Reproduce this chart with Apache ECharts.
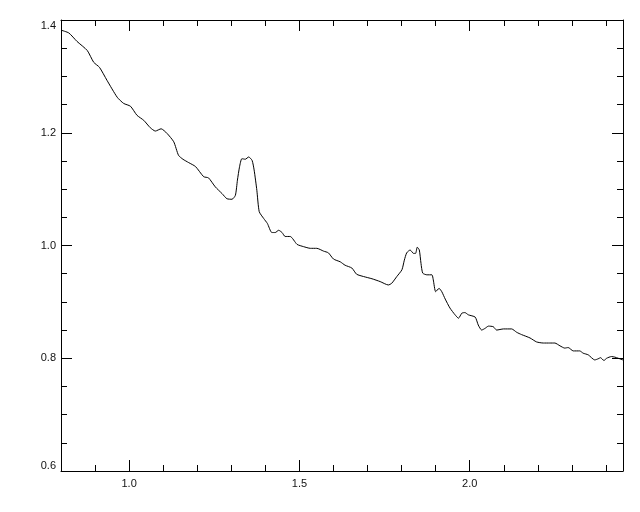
<!DOCTYPE html>
<html>
<head>
<meta charset="utf-8">
<script src="https://cdn.jsdelivr.net/npm/echarts@6/dist/echarts.min.js"></script>
<style>html,body{margin:0;padding:0;background:#fff}#c{width:640px;height:512px}</style>
</head>
<body>
<div id="c"></div>
<script>
var xVals = [0.800,0.823,0.847,0.877,0.896,0.913,0.935,0.965,0.984,1.004,1.023,1.043,1.062,1.077,1.094,1.111,1.131,1.145,1.158,1.175,1.195,1.219,1.233,1.253,1.273,1.287,1.302,1.312,1.318,1.324,1.331,1.341,1.351,1.361,1.367,1.375,1.382,1.395,1.406,1.419,1.429,1.439,1.449,1.458,1.473,1.493,1.512,1.532,1.551,1.571,1.585,1.600,1.620,1.634,1.654,1.668,1.688,1.713,1.737,1.761,1.771,1.786,1.801,1.808,1.815,1.825,1.835,1.841,1.846,1.852,1.857,1.862,1.874,1.889,1.893,1.900,1.910,1.918,1.928,1.942,1.957,1.967,1.977,1.986,1.996,2.016,2.025,2.035,2.045,2.055,2.069,2.079,2.099,2.123,2.138,2.152,2.177,2.196,2.216,2.235,2.250,2.265,2.279,2.289,2.304,2.323,2.333,2.348,2.367,2.377,2.384,2.394,2.402,2.416,2.426,2.436,2.450];
var yVals = [1.382,1.377,1.362,1.346,1.325,1.316,1.293,1.263,1.252,1.247,1.231,1.222,1.209,1.203,1.207,1.199,1.184,1.160,1.153,1.147,1.140,1.122,1.120,1.104,1.092,1.083,1.082,1.089,1.116,1.139,1.154,1.153,1.157,1.151,1.134,1.098,1.060,1.048,1.039,1.023,1.023,1.027,1.023,1.016,1.016,1.002,0.998,0.995,0.995,0.990,0.987,0.976,0.971,0.965,0.960,0.949,0.945,0.941,0.936,0.930,0.933,0.945,0.957,0.974,0.987,0.992,0.986,0.986,0.997,0.992,0.968,0.951,0.948,0.948,0.939,0.918,0.924,0.918,0.905,0.889,0.877,0.871,0.880,0.881,0.877,0.873,0.859,0.850,0.853,0.857,0.856,0.850,0.852,0.852,0.846,0.842,0.836,0.829,0.827,0.827,0.827,0.822,0.818,0.819,0.813,0.813,0.809,0.806,0.797,0.799,0.801,0.796,0.800,0.803,0.802,0.800,0.797];
var xMajorTicks = [1.0, 1.5, 2.0];
var xMinorTicks = [0.9,1.0,1.1,1.2,1.3,1.4,1.5,1.6,1.7,1.8,1.9,2.0,2.1,2.2,2.3,2.4];
var yMajorTicks = [0.6, 0.8, 1.0, 1.2, 1.4];
var yMinorTicks = [0.65,0.7,0.75,0.8,0.85,0.9,0.95,1.0,1.05,1.1,1.15,1.2,1.25,1.3,1.35];

var X_MIN = 0.8, X_MAX = 2.45, Y_MIN = 0.6, Y_MAX = 1.4;
var FONT = 'Liberation Sans';

function axis(kind, pos, ticks, len, showLine, labels) {
  var a = {
    type: 'value', position: pos,
    min: kind === 'x' ? X_MIN : Y_MIN,
    max: kind === 'x' ? X_MAX : Y_MAX,
    axisLine: {show: showLine, onZero: false, lineStyle: {color: '#000', width: 1}},
    axisTick: {show: true, inside: true, length: len, customValues: ticks, lineStyle: {color: '#000', width: 1}},
    splitLine: {show: false},
    axisLabel: {show: false}
  };
  if (labels) {
    a.axisLabel = {
      show: true, customValues: labels, color: '#111', fontFamily: FONT, fontSize: 11,
      margin: kind === 'x' ? 7 : 5,
      formatter: function (v) { return Number(v).toFixed(1); }
    };
    if (kind === 'y') {
      a.axisLabel.verticalAlignMinLabel = 'bottom';
      a.axisLabel.verticalAlignMaxLabel = 'top';
    }
  }
  return a;
}

var pts = xVals.map(function (x, i) { return [x, yVals[i]]; });

var chart = echarts.init(document.getElementById('c'));
chart.setOption({
  animation: false,
  backgroundColor: '#fff',
  grid: {left: 61, right: 17, top: 20, bottom: 41, containLabel: false},
  xAxis: [
    axis('x', 'bottom', xMinorTicks, 6, true, null),
    axis('x', 'bottom', xMajorTicks, 11, false, xMajorTicks),
    axis('x', 'top', xMinorTicks, 6, true, null),
    axis('x', 'top', xMajorTicks, 11, false, null)
  ],
  yAxis: [
    axis('y', 'left', yMinorTicks, 6, true, null),
    axis('y', 'left', yMajorTicks, 11, false, yMajorTicks),
    axis('y', 'right', yMinorTicks, 6, true, null),
    axis('y', 'right', yMajorTicks, 11, false, null)
  ],
  series: [{
    type: 'line', xAxisIndex: 0, yAxisIndex: 0,
    data: pts, showSymbol: false, smooth: 0.2,
    lineStyle: {color: '#000', width: 1}
  }]
});
</script>
</body>
</html>
